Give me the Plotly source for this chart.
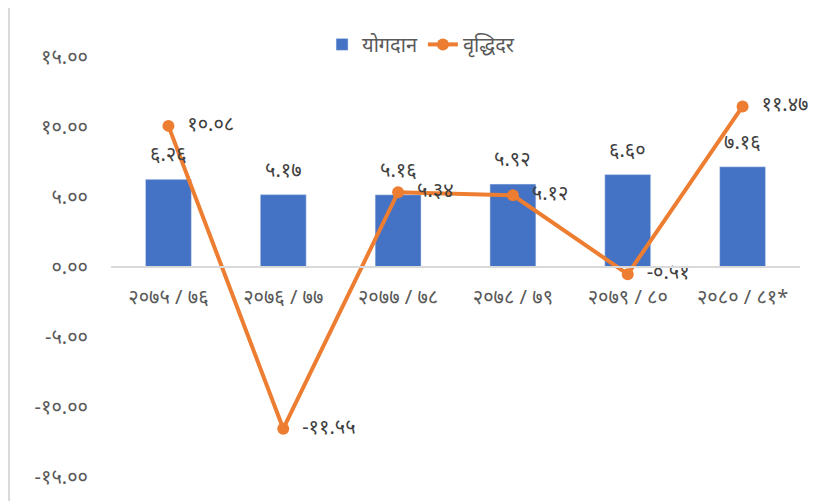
"""Contribution and growth rate chart (Nepali fiscal years)."""

import plotly.graph_objects as go

DEV_DIGITS = str.maketrans("0123456789", "०१२३४५६७८९")

years = ["२०७५ / ७६", "२०७६ / ७७", "२०७७ / ७८", "२०७८ / ७९", "२०७९ / ८०", "२०८० / ८१*"]
contribution = [6.26, 5.17, 5.16, 5.92, 6.60, 7.16]
growth_rate = [10.08, -11.55, 5.34, 5.12, -0.51, 11.47]
y_ticks = [-15, -10, -5, 0, 5, 10, 15]


def to_nepali(value):
    """Format a number with two decimals in Devanagari digits."""
    return f"{value:.2f}".translate(DEV_DIGITS)


FONT = "Noto Sans, Noto Sans Devanagari, sans-serif"
GREY = "#595959"
SIZE = 20

fig = go.Figure()
fig.add_trace(
    go.Bar(
        x=years,
        y=contribution,
        name="योगदान",
        marker=dict(color="#4472C4"),
        width=0.4,
    )
)
fig.add_trace(
    go.Scatter(
        x=years,
        y=growth_rate,
        name="वृद्धिदर",
        mode="lines+markers+text",
        line=dict(color="#ED7D31", width=4),
        marker=dict(color="#ED7D31", size=12),
        text=["  " + to_nepali(v) for v in growth_rate],
        textposition="middle right",
        textfont=dict(size=SIZE, color="#404040", family=FONT),
        cliponaxis=False,
    )
)

# bar value labels sit a little higher than plotly's "outside" text
for year, value in zip(years, contribution):
    fig.add_annotation(
        x=year,
        y=value,
        text=to_nepali(value),
        showarrow=False,
        yanchor="bottom",
        yshift=10,
        font=dict(size=SIZE, color="#404040", family=FONT),
    )

fig.update_layout(
    width=811,
    height=493,
    plot_bgcolor="white",
    paper_bgcolor="white",
    font=dict(family=FONT, color=GREY, size=SIZE),
    margin=dict(l=103, r=19, t=49, b=24, autoexpand=False),
    showlegend=True,
    legend=dict(
        orientation="h",
        x=0.45,
        xanchor="center",
        y=1.03,
        yanchor="middle",
        font=dict(size=SIZE, color=GREY),
        traceorder="normal",
    ),
    xaxis=dict(
        anchor="free",
        position=0.5,
        showline=True,
        linecolor="#D9D9D9",
        linewidth=1.5,
        showgrid=False,
        ticks="",
        ticklabelstandoff=12,
        tickfont=dict(size=SIZE, color=GREY),
    ),
    yaxis=dict(
        range=[-15, 15],
        tickvals=y_ticks,
        ticktext=[to_nepali(v) for v in y_ticks],
        showgrid=False,
        zeroline=False,
        showline=False,
        ticklabelstandoff=22,
        tickfont=dict(size=SIZE, color=GREY),
    ),
    shapes=[
        dict(
            type="line",
            xref="paper",
            yref="paper",
            x0=-0.148,
            x1=-0.148,
            y0=-0.06,
            y1=1.12,
            line=dict(color="#D9D9D9", width=2),
        )
    ],
    bargap=0.6,
)

fig.write_html("out.html")
